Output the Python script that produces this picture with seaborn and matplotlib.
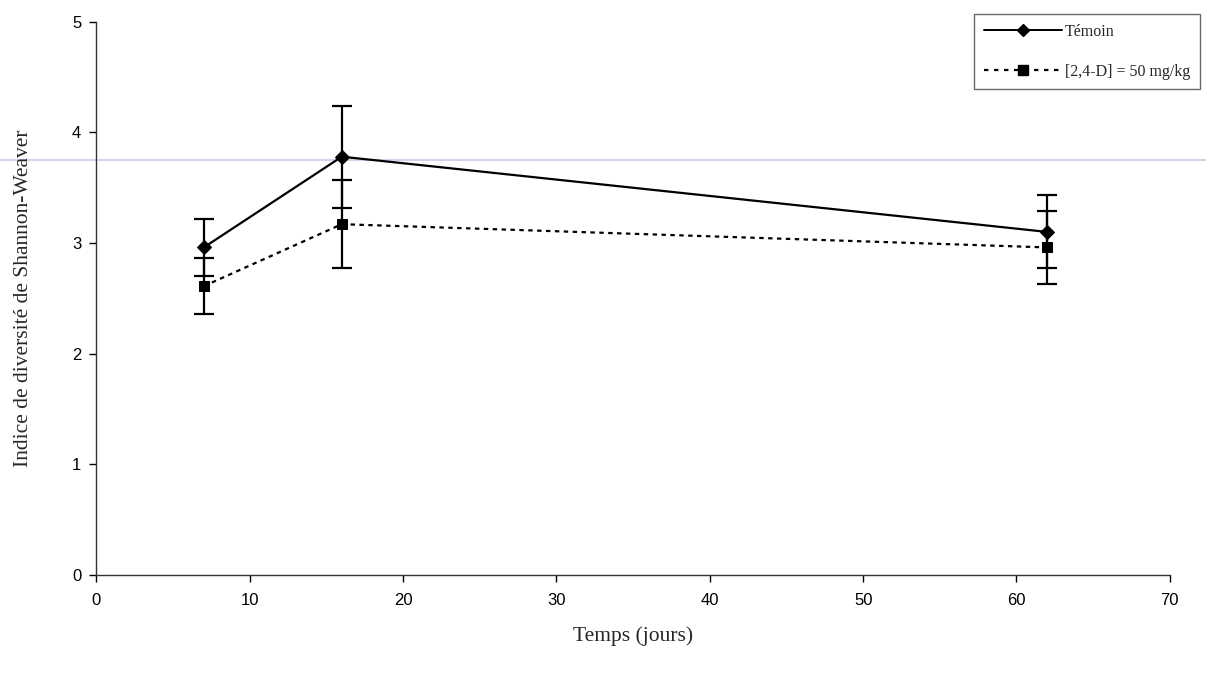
import numpy as np
import pandas as pd
import matplotlib
matplotlib.use("Agg")
import matplotlib.pyplot as plt
import seaborn as sns
from matplotlib.lines import Line2D

# Data
jours = [7, 16, 62]
temoin = [2.96, 3.78, 3.10]
temoin_err = [0.26, 0.46, 0.33]
dose = [2.61, 3.17, 2.96]
dose_err = [0.25, 0.40, 0.33]
series_names = ["Témoin", "[2,4-D] = 50 mg/kg"]

df = pd.DataFrame({
    "Temps": jours * 2,
    "Indice": temoin + dose,
    "err": temoin_err + dose_err,
    "Traitement": [series_names[0]] * 3 + [series_names[1]] * 3,
})

sns.set_style("white")
plt.rcParams['font.family'] = ['Liberation Sans', 'DejaVu Sans']
serif = ["Liberation Serif", "DejaVu Serif"]

fig = plt.figure(figsize=(12.06, 6.78), dpi=100, facecolor="white")

# faint scan line across the page (behind everything)
fig.add_artist(Line2D([0, 1], [0.764, 0.764], transform=fig.transFigure,
                      color="#cbcbee", lw=1.2, zorder=-5))

ax = fig.add_axes([0.080, 0.152, 0.890, 0.816])
ax.patch.set_visible(False)

sns.lineplot(data=df, x="Temps", y="Indice", hue="Traitement", style="Traitement",
             palette=["black", "black"], markers=["D", "s"],
             dashes=[(None, None), (2, 2)], markersize=7, linewidth=1.6,
             markeredgecolor="black", ax=ax, legend=False)

# Error bars
for name, grp in df.groupby("Traitement", sort=False):
    ax.errorbar(grp["Temps"], grp["Indice"], yerr=grp["err"], fmt="none",
                ecolor="black", elinewidth=1.6, capsize=7, capthick=1.6)

ax.set_xlim(0, 70)
ax.set_ylim(0, 5)
ax.set_xticks(range(0, 71, 10))
ax.set_yticks(range(0, 6))
ax.tick_params(axis="both", direction="out", length=5, width=1, labelsize=12,
               bottom=True, left=True, colors="black")
ax.tick_params(axis="x", pad=8)
ax.tick_params(axis="y", pad=6)
for side in ["top", "right"]:
    ax.spines[side].set_visible(False)
for side in ["left", "bottom"]:
    ax.spines[side].set_color("#333333")
    ax.spines[side].set_linewidth(1)

ax.set_xlabel("Temps (jours)", family=serif, fontsize=15.5, labelpad=13)
ax.set_ylabel("Indice de diversité de Shannon-Weaver", family=serif,
              fontsize=15.5, labelpad=28)

# Legend
handles = [
    Line2D([], [], color="black", lw=1.4, marker="D", markersize=6),
    Line2D([], [], color="black", lw=1.6, ls=(0, (2, 2.5)), marker="s", markersize=7),
]
leg = fig.legend(handles, series_names, loc="upper right",
                 bbox_to_anchor=(0.995, 0.979), bbox_transform=fig.transFigure,
                 prop={"family": serif, "size": 11.5},
                 handlelength=4.9, frameon=True, fancybox=False, edgecolor="#444444",
                 borderpad=0.6, labelspacing=1.5, handletextpad=0.2,
                 borderaxespad=0)
leg.get_frame().set_linewidth(1.0)

fig.savefig("out.png", dpi=100, facecolor="white")
